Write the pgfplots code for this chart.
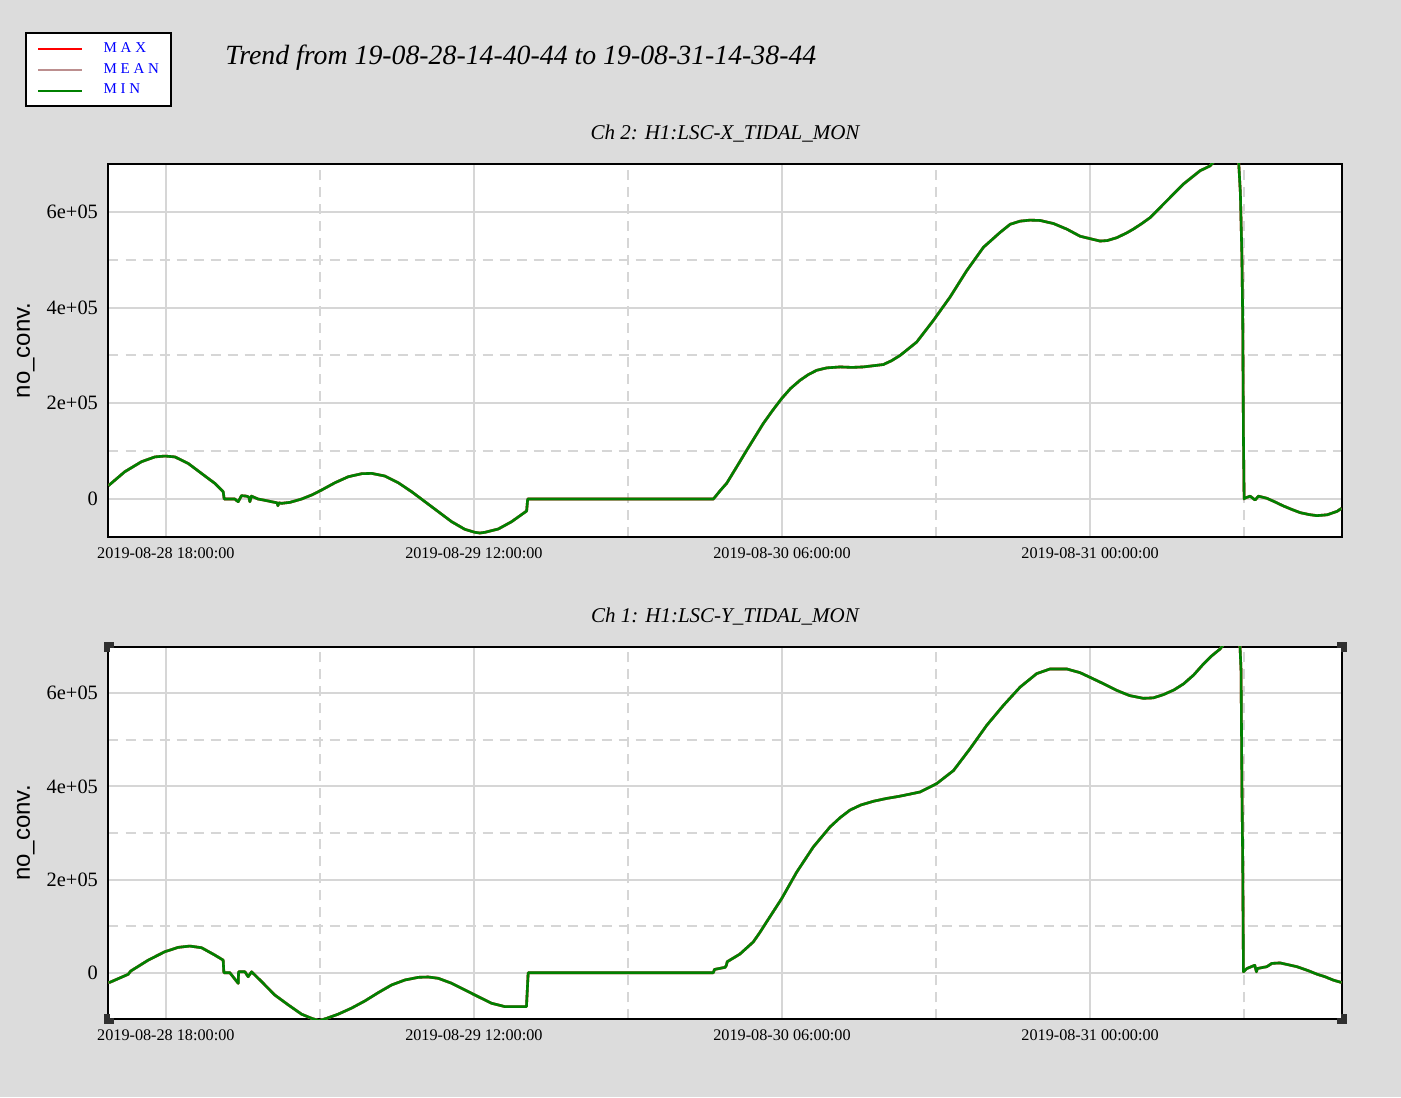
\documentclass[border=0pt]{standalone}
\usepackage{fontspec}
\setmainfont{Liberation Serif}
\setsansfont{Liberation Sans}
\usepackage{pgfplots}
\usepackage{pgfplotstable}
\pgfplotsset{compat=1.18}
\definecolor{bg}{HTML}{DCDCDC}
\definecolor{gridc}{HTML}{D6D6D6}
\definecolor{meanc}{HTML}{BC8F8F}
\definecolor{ming}{HTML}{008000}
\definecolor{handle}{HTML}{303030}

% Ch 2: H1:LSC-X_TIDAL_MON  (x: hours since 2019-08-28 00:00)
\pgfplotstableread{
h v
14.65 28000
15.60 57000
16.58 78000
17.36 88000
17.94 89800
18.53 88000
19.30 74500
20.08 53600
20.86 32800
21.35 15300
21.41 0
22.03 0
22.13 -3000
22.23 -5600
22.42 7000
22.72 6000
22.85 4000
22.91 -5600
23.00 6000
23.39 0
23.69 -2000
24.18 -5600
24.50 -8000
24.55 -14000
24.60 -8000
24.76 -9000
25.25 -7000
25.93 0
26.52 8400
27.10 18800
27.88 34000
28.66 46600
29.44 52900
30.02 53600
30.80 48000
31.58 34000
32.36 15300
33.14 -5600
33.92 -26500
34.70 -47400
35.47 -63300
36.06 -69600
36.35 -71000
36.64 -69600
37.42 -62700
38.20 -47400
39.08 -25000
39.14 0
49.99 0
50.40 18000
50.77 33000
51.35 67000
51.94 102000
52.91 158000
53.45 185000
53.98 210000
54.50 231000
55.05 248000
55.54 260000
56.03 269000
56.61 274000
57.39 276000
58.10 275000
58.75 276000
59.92 281000
60.40 289000
60.90 300000
61.87 328000
62.84 373000
63.82 422000
64.79 477000
65.77 526000
66.74 557000
67.33 574000
67.91 580600
68.49 582700
69.08 582000
69.86 575600
70.64 563900
71.42 549000
72.00 544000
72.58 539000
73.00 540000
73.56 546000
74.14 556000
74.53 564000
75.00 575000
75.51 588000
76.48 623000
77.45 658000
78.43 686000
79.01 696000
79.40 712000
80.60 712000
80.68 705000
80.78 640000
80.87 508000
80.92 367000
80.96 130000
81.00 0
81.02 1500
81.35 6000
81.64 -2000
81.84 6000
82.33 1500
82.80 -6000
83.30 -14600
83.80 -22000
84.28 -28500
84.80 -32500
85.25 -34700
85.84 -33000
86.42 -26000
86.69 -19500
}\chtwo

% Ch 1: H1:LSC-Y_TIDAL_MON
\pgfplotstableread{
h v
14.65 -21000
14.73 -20600
15.80 -3400
15.95 3600
16.97 27000
17.94 45000
18.72 54400
19.40 57200
20.09 53600
20.86 37900
21.35 27000
21.39 0
21.74 0
22.23 -22800
22.25 2000
22.62 2000
22.81 -8600
23.01 2000
23.59 -19000
24.37 -48000
25.15 -69000
25.93 -89000
26.52 -98000
26.95 -103000
27.39 -98000
28.07 -89000
28.85 -76000
29.63 -60600
30.41 -42800
31.19 -26300
31.97 -15600
32.75 -9900
33.33 -9200
33.92 -12000
34.70 -22700
35.47 -37000
36.25 -51400
37.03 -65600
37.81 -72800
39.07 -72800
39.17 0
49.99 0
50.05 7000
50.68 11600
50.75 16000
50.80 23600
51.54 40000
52.32 66000
52.70 86000
53.10 109000
53.98 159000
54.86 216000
55.83 270000
56.81 313000
57.40 333000
57.97 349000
58.60 360000
59.34 368000
60.10 374000
60.90 379000
62.07 388000
63.04 406000
64.02 434000
64.99 481000
65.96 531000
66.94 574000
67.91 613000
68.88 642000
69.66 652000
70.64 652000
71.42 644000
72.00 634000
72.80 620000
73.56 606000
74.30 595000
75.12 589000
75.70 590000
76.29 597000
76.90 607000
77.46 620000
78.05 639000
78.63 663000
79.10 680000
79.60 695000
80.00 715000
80.62 715000
80.76 700000
80.82 649000
80.87 406000
80.92 227000
80.96 2000
81.16 9000
81.62 16000
81.72 2000
81.77 9000
82.33 13000
82.62 20000
83.10 21000
84.08 13000
84.70 5000
85.25 -3000
85.75 -9000
86.22 -16000
86.69 -21000
}\chone

\pgfplotsset{
  trendaxis/.style={
    scale only axis,
    width=616.5pt, height=186.35pt,
    xmin=14.65, xmax=86.69,
    xtick={18,36,54,72},
    xticklabels={2019-08-28 18:00:00,2019-08-29 12:00:00,2019-08-30 06:00:00,2019-08-31 00:00:00},
    minor xtick={27,45,63,81},
    ytick={0,200000,400000,600000},
    yticklabels={0,2e+05,4e+05,6e+05},
    minor ytick={100000,300000,500000},
    scaled y ticks=false, scaled x ticks=false,
    grid=both,
    major grid style={draw=gridc, line width=1pt},
    minor grid style={draw=gridc, line width=1pt, dash pattern=on 5pt off 3.5pt},
    major tick length=0pt, minor tick length=0pt,
    axis line style={draw=black, line width=1pt},
    axis background/.style={fill=white},
    xticklabel style={font=\fontsize{8.1}{9}\selectfont, inner sep=0pt, anchor=base, yshift=-10.8pt},
    yticklabel style={font=\fontsize{10.2}{12}\selectfont, inner sep=0pt, anchor=east, xshift=-5.1pt},
    ylabel={no\_conv.},
    ylabel style={font=\sffamily\fontsize{12}{14}\selectfont, at={(axis description cs:-0.067,0.5)}, anchor=center, inner sep=0pt},
    title style={font=\itshape\fontsize{10.5}{12}\selectfont, at={(axis description cs:0.5,1)}, anchor=base, inner sep=0pt, yshift=6.1pt},
    every axis plot/.append style={line width=1.3pt, line join=round},
    legend image code/.code={\draw[##1, line width=1pt] (0pt,0pt) -- (22pt,0pt);},
  }
}

\begin{document}
\begin{tikzpicture}
\useasboundingbox (0pt,0pt) rectangle (700.5pt,548.5pt);
\fill[bg] (0pt,0pt) rectangle (700.5pt,548.5pt);

\node[anchor=base west, inner sep=0pt, font=\itshape\fontsize{13.9}{16}\selectfont] at (112.5pt,516pt)
  {Trend from 19-08-28-14-40-44 to 19-08-31-14-38-44};

% top: Ch 2
\begin{axis}[trendaxis,
  at={(54.25pt,280.15pt)}, anchor=south west,
  ymin=-78700, ymax=700000,
  title={Ch 2: H1:LSC-X\_TIDAL\_MON},
  legend cell align=left,
  legend style={at={(-0.0680,1.3545)}, anchor=north west,
    draw=black, line width=1pt, fill=white,
    inner xsep=5.8pt, inner ysep=2.6pt, row sep=0pt, column sep=10.2pt,
    font=\fontsize{7.5}{9}\selectfont,
    nodes={inner sep=0pt, minimum height=10.5pt, text=blue}},
]
\addplot[red, no marks] table[x=h, y=v] {\chtwo};
\addlegendentry{M A X}
\addplot[meanc, no marks] table[x=h, y=v] {\chtwo};
\addlegendentry{M E A N}
\addplot[ming, no marks] table[x=h, y=v] {\chtwo};
\addlegendentry{M I N}
\end{axis}

% bottom: Ch 1
\begin{axis}[trendaxis,
  at={(54.25pt,38.85pt)}, anchor=south west,
  ymin=-100000, ymax=700000,
  title={Ch 1: H1:LSC-Y\_TIDAL\_MON},
]
\addplot[red, no marks] table[x=h, y=v] {\chone};
\addplot[meanc, no marks] table[x=h, y=v] {\chone};
\addplot[ming, no marks] table[x=h, y=v] {\chone};
\end{axis}

% selection handles at the corners of the lower plot
\fill[handle] (51.75pt,36.35pt) rectangle (56.75pt,41.35pt);
\fill[handle] (668.25pt,36.35pt) rectangle (673.25pt,41.35pt);
\fill[handle] (51.75pt,222.65pt) rectangle (56.75pt,227.65pt);
\fill[handle] (668.25pt,222.65pt) rectangle (673.25pt,227.65pt);
\fill[white] (54.75pt,222.65pt) rectangle (56.75pt,224.65pt);
\fill[white] (668.25pt,222.65pt) rectangle (670.25pt,224.65pt);
\fill[white] (54.75pt,39.35pt) rectangle (56.75pt,41.35pt);
\fill[white] (668.25pt,39.35pt) rectangle (670.25pt,41.35pt);
\end{tikzpicture}
\end{document}
